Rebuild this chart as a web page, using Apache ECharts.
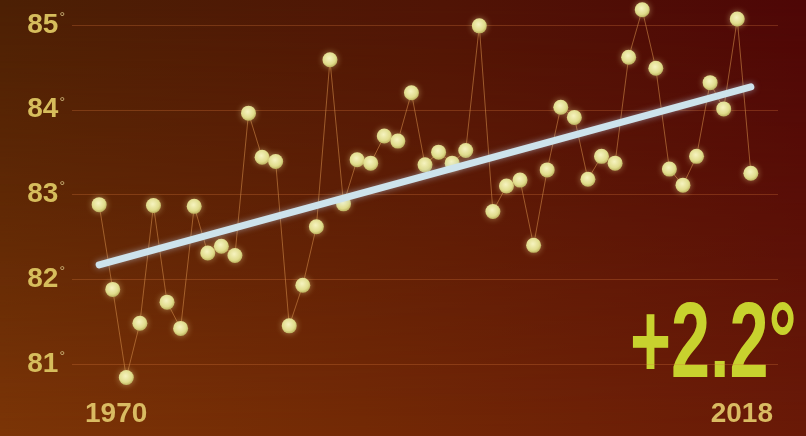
<!DOCTYPE html>
<html>
<head>
<meta charset="utf-8">
<script src="https://cdn.jsdelivr.net/npm/echarts@6/dist/echarts.min.js"></script>
<style>
  html, body { margin: 0; padding: 0; }
  #wrap { position: relative; width: 806px; height: 436px; overflow: hidden;
          background: linear-gradient(to right, #7c3507 0%, #742a06 45%, #6a1a08 100%); }
  #topShade { position: absolute; left: 0; top: 0; width: 806px; height: 436px;
          background: linear-gradient(to right, #4c2004 0%, #501405 55%, #4e0606 100%);
          -webkit-mask-image: linear-gradient(to bottom, black 0%, rgba(0,0,0,0.6) 45%, transparent 100%);
          mask-image: linear-gradient(to bottom, black 0%, rgba(0,0,0,0.6) 45%, transparent 100%); }
  #chart { position: absolute; left: 0; top: 0; width: 806px; height: 436px; }
</style>
</head>
<body>
<div id="wrap">
  <div id="topShade"></div>
  <div id="chart"></div>
</div>
<script>
'use strict';

// yearly average temps
var years = [1970, 1971, 1972, 1973, 1974, 1975, 1976, 1977, 1978, 1979,
             1980, 1981, 1982, 1983, 1984, 1985, 1986, 1987, 1988, 1989,
             1990, 1991, 1992, 1993, 1994, 1995, 1996, 1997, 1998, 1999,
             2000, 2001, 2002, 2003, 2004, 2005, 2006, 2007, 2008, 2009,
             2010, 2011, 2012, 2013, 2014, 2015, 2016, 2017, 2018];
var temps = [82.88, 81.88, 80.84, 81.48, 82.87, 81.73, 81.42, 82.86, 82.31, 82.39,
             82.28, 83.96, 83.44, 83.39, 81.45, 81.93, 82.62, 84.59, 82.89, 83.41,
             83.37, 83.69, 83.63, 84.20, 83.35, 83.50, 83.37, 83.52, 84.99, 82.80,
             83.10, 83.17, 82.40, 83.29, 84.03, 83.91, 83.18, 83.45, 83.37, 84.62,
             85.18, 84.49, 83.30, 83.11, 83.45, 84.32, 84.01, 85.07, 83.25];
var trendYears = [1970, 2018];
var trendTemps = [82.17, 84.27];
var yTicks = [81, 82, 83, 84, 85];
var xLabels = [1970, 2018];
var changeText = '+2.2°';

var labelFont = '"Liberation Sans", Arial, sans-serif';

var chart = echarts.init(document.getElementById('chart'));

var points = years.map(function (y, i) { return [y, temps[i]]; });
var trend = trendYears.map(function (y, i) { return [y, trendTemps[i]]; });

var option = {
  backgroundColor: 'transparent',
  animation: false,
  grid: { left: 72, right: 28, top: 25, bottom: 72 },
  xAxis: {
    type: 'value',
    min: 1968,
    max: 2020,
    splitLine: { show: false },
    axisLine: { show: false },
    axisTick: { show: false },
    axisLabel: {
      customValues: xLabels,
      margin: 36,
      formatter: function (v) {
        return v === 1970 ? '{l|' + v + '}' : '{r|' + v + '}';
      },
      rich: {
        l: { fontFamily: labelFont, fontWeight: 'bold', fontSize: 28,
             color: '#d9bb62', padding: [0, 0, 0, 34] },
        r: { fontFamily: labelFont, fontWeight: 'bold', fontSize: 28,
             color: '#d9bb62', padding: [0, 18, 0, 0] }
      }
    }
  },
  yAxis: {
    type: 'value',
    min: yTicks[0],
    max: yTicks[yTicks.length - 1],
    interval: 1,
    axisLine: { show: false },
    axisTick: { show: false },
    splitLine: { lineStyle: { color: 'rgba(215,120,60,0.3)', width: 1 } },
    axisLabel: {
      margin: 7,
      formatter: function (v) { return '{n|' + v + '}{d|°}'; },
      rich: {
        n: { fontFamily: labelFont, fontWeight: 'bold', fontSize: 28, color: '#d6bd5c' },
        d: { fontFamily: labelFont, fontSize: 14, color: '#cdb77a', verticalAlign: 'top', padding: [0, 0, 12, 1] }
      }
    }
  },
  series: [
    {
      type: 'line',
      data: points,
      clip: false,
      z: 3,
      symbol: 'circle',
      symbolSize: 15,
      lineStyle: { color: 'rgba(205,135,70,0.6)', width: 1 },
      itemStyle: {
        color: {
          type: 'radial', x: 0.45, y: 0.4, r: 0.6,
          colorStops: [
            { offset: 0, color: '#f6f3c0' },
            { offset: 0.7, color: '#e0dc8c' },
            { offset: 1, color: '#bdb360' }
          ]
        },
        shadowBlur: 6,
        shadowColor: 'rgba(255,240,160,0.45)'
      }
    },
    {
      type: 'line',
      data: trend,
      clip: false,
      z: 4,
      symbol: 'none',
      lineStyle: {
        color: '#cde3ec',
        width: 7,
        cap: 'round',
        shadowBlur: 6,
        shadowColor: 'rgba(200,230,255,0.5)'
      }
    }
  ],
  graphic: [
    {
      type: 'text',
      x: 630,
      y: 293,
      scaleX: 0.65,
      style: {
        text: changeText,
        fontFamily: labelFont,
        fontWeight: 'bold',
        fontSize: 108,
        fill: '#c8d22e'
      }
    }
  ]
};

chart.setOption(option);
</script>
</body>
</html>
